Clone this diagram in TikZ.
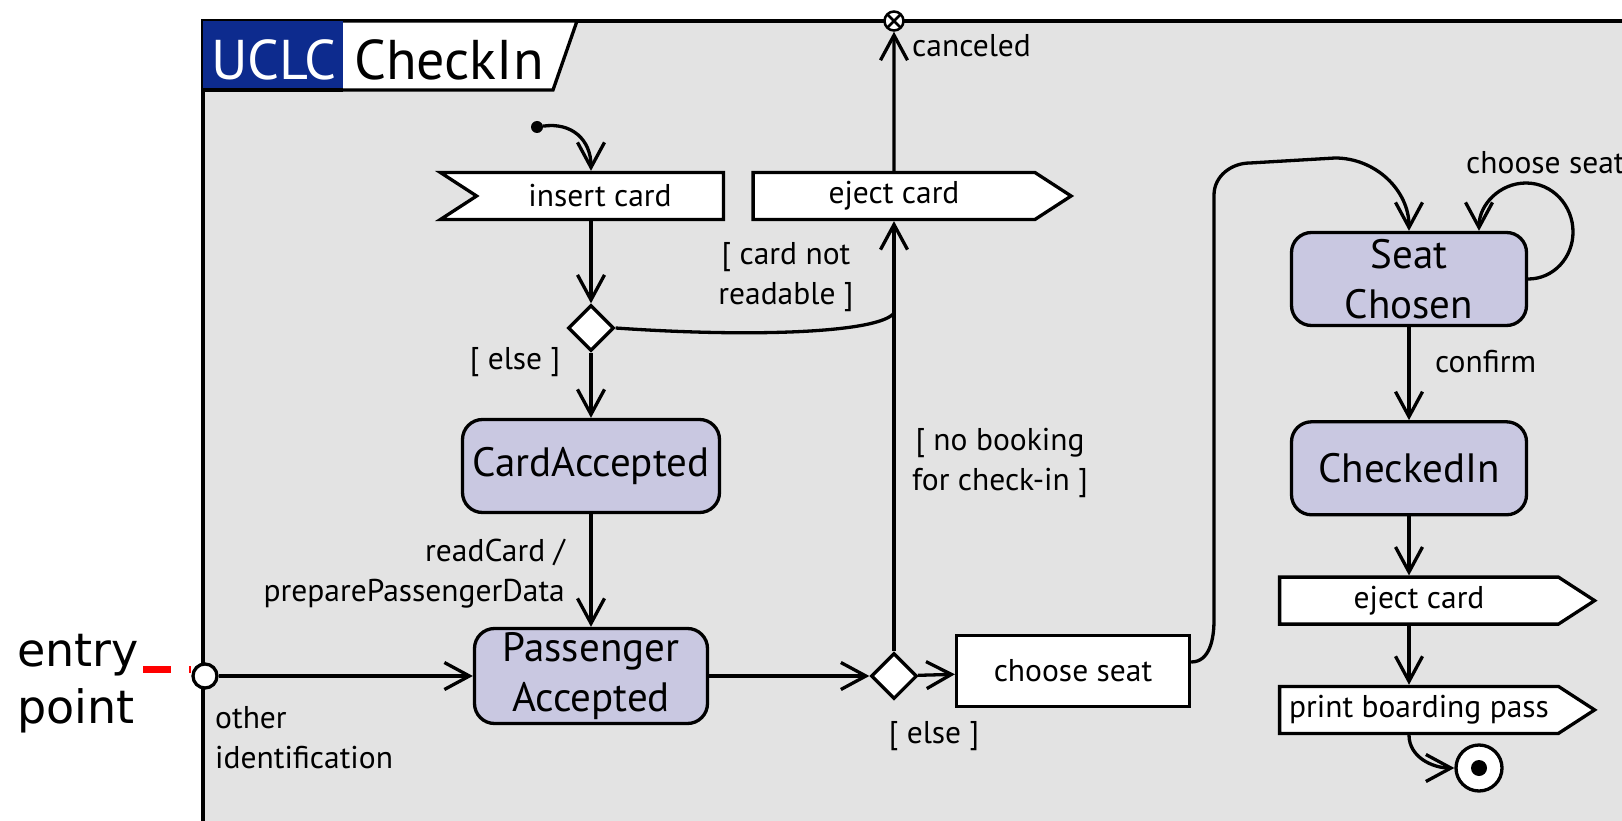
\documentclass[tikz,border=0pt]{standalone}
\usepackage{fontspec}
\setmainfont{PT Sans}
\newfontfamily\entryfont{DejaVu Sans}
\usepackage{tikz}
\usetikzlibrary{shapes.geometric, shapes.symbols, arrows.meta, positioning}
\definecolor{framegray}{HTML}{E3E3E3}
\definecolor{statefill}{HTML}{C9C8E1}
\definecolor{uclcblue}{HTML}{0D2B8E}
\newcommand{\lblfont}{\fontsize{31.5}{40}\selectfont}
\newcommand{\statefont}{\fontsize{41}{50}\selectfont}
\newcommand{\hdrfont}{\fontsize{56}{60}\selectfont}
\tikzstyle{state}    = [rectangle, rounded corners=20pt, draw, line width=3.3pt,
                         fill=statefill, align=center, font=\statefont, inner sep=0pt]
\tikzstyle{sendsig}  = [signal, signal to=east, signal pointer angle=66, draw,
                         line width=3.3pt, fill=white, font=\lblfont,
                         minimum height=47pt, inner sep=0pt]
\tikzstyle{recvsig}  = [signal, signal to=nowhere, signal from=west,
                         signal pointer angle=66, draw, line width=3.3pt,
                         fill=white, font=\lblfont, minimum height=47pt, inner sep=0pt]
\tikzstyle{action}   = [rectangle, draw, line width=3.3pt, fill=white,
                         font=\lblfont, inner sep=0pt]
\tikzstyle{decision} = [diamond, draw, line width=3.3pt, fill=white,
                         minimum size=46pt, inner sep=0pt]
\tikzstyle{arrow}    = [-{Straight Barb[length=25pt,width=27pt]}, line width=3.3pt]
\tikzstyle{lbl}      = [font=\lblfont, align=center, inner sep=0pt]

\begin{document}
\begin{tikzpicture}[x=1pt, y=1pt]
  \useasboundingbox (0,0) rectangle (1622,-821);
  \clip (0,0) rectangle (1622,-821);

  % frame and header
  \draw[line width=4pt, fill=framegray] (203,-21) rectangle (1700,-900);
  \fill[uclcblue] (203,-21) rectangle (343,-90);
  \draw[line width=3.3pt, fill=white] (343,-21) -- (577,-21) -- (553,-90) -- (343,-90);
  \draw[line width=3.3pt] (203,-90) -- (343,-90);
  \node[font=\hdrfont, text=white, anchor=base, inner sep=0pt] (uclc) at (274,-80) {UCLC};
  \node[font=\hdrfont, anchor=base west, inner sep=0pt] (title) at (354,-80) {CheckIn};

  % entry point annotation
  \node[font=\entryfont\fontsize{46}{57}\selectfont, align=left, anchor=west,
        inner sep=0pt] (lentry) at (17,-684) {entry\\point};
  \coordinate (redstart) at (143,-669);
  \node[circle, draw, line width=3.3pt, fill=white, minimum size=24pt,
        inner sep=0pt] (entry) at (205,-676) {};

  % nodes
  \node[circle, fill, minimum size=12pt, inner sep=0pt] (init) at (537,-127) {};
  \node[recvsig, minimum width=283pt] (ins) at (600,-196) {insert card};
  \node[sendsig, minimum width=318pt] (ej1) at (894,-196) {eject card};
  \node[circle, draw, line width=2.5pt, fill=white, minimum size=19pt, inner sep=0pt,
        path picture={\draw[line width=2.5pt]
          (path picture bounding box.north west) -- (path picture bounding box.south east)
          (path picture bounding box.north east) -- (path picture bounding box.south west);}]
        (cancel) at (894,-21) {};
  \node[decision] (d1) at (591,-328) {};
  \coordinate (join) at (894,-313);
  \node[state, minimum width=257pt, minimum height=93pt] (ca) at (591,-466) {CardAccepted};
  \node[state, minimum width=233pt, minimum height=95pt] (pa) at (591,-676) {Passenger\\Accepted};
  \node[decision] (d2) at (894,-676) {};
  \node[action, minimum width=233pt, minimum height=71pt] (cs) at (1073,-671) {choose seat};
  \node[state, minimum width=235pt, minimum height=93pt] (sc) at (1409,-279) {Seat\\Chosen};
  \node[state, minimum width=235pt, minimum height=93pt, below=93pt of sc] (ci) {CheckedIn};
  \node[sendsig, minimum width=315pt, below=59pt of ci, xshift=10pt] (ej2) {eject card};
  \node[sendsig, minimum width=315pt, below=59pt of ej2] (pb) {print boarding pass};
  \node[circle, draw, line width=3.3pt, fill=white, minimum size=46pt, inner sep=0pt,
        path picture={\fill[black] (path picture bounding box.center) circle (8pt);}]
        (fin) at (1479,-768) {};

  % labels
  \node[lbl, anchor=west] (lcanc) at (912,-46) {canceled};
  \node[lbl] (lnotread) at (786,-277) {[ card not\\readable ]};
  \node[lbl] (lelse1) at (515,-362) {[ else ]};
  \node[lbl, align=right, anchor=east] (lread) at (565,-574) {readCard /\\preparePassengerData};
  \node[lbl] (lnobook) at (1000,-463) {[ no booking\\for check-in ]};
  \node[lbl] (lelse2) at (934,-736) {[ else ]};
  \node[lbl, anchor=west] (lconf) at (1435,-362) {confirm};
  \node[lbl, anchor=west] (lchoose) at (1466,-163) {choose seat};
  \node[lbl, align=left, anchor=west] (lother) at (215,-738) {other\\identification};

  % connectors
  \draw[red, line width=7pt, dash pattern=on 28pt off 18pt] (redstart) -- (redstart -| entry.west);
  \draw[arrow] (init) .. controls (572,-122) and (591,-140) .. (d1 |- ins.north);
  \draw[arrow] (d1 |- ins.south) -- (d1);
  \draw[line width=3.3pt] (d1.east) .. controls (760,-338) and (880,-332) .. (join);
  \draw[arrow] (d1) -- (ca);
  \draw[arrow] (ca) -- (pa);
  \draw[arrow] (entry) -- (pa);
  \draw[arrow] (pa) -- (d2);
  \draw[arrow] (d2) -- (cs);
  \draw[arrow] (d2) -- (ej1);
  \draw[arrow] (ej1) -- (cancel);
  \draw[arrow] ([yshift=9pt]cs.east) to[out=0,in=-90] (1214,-620) -- (1214,-195)
    to[out=90,in=180] (1250,-163) -- (1335,-158) to[out=0,in=90] (sc.north);
  \draw[arrow] (sc.east) to[out=0,in=-90] (1573,-232) to[out=90,in=0] (1526,-183)
    to[out=180,in=90] ([xshift=70pt]sc.north);
  \draw[arrow] (sc) -- (ci);
  \draw[arrow] (ci) -- (ci.south |- ej2.north);
  \draw[arrow] (ci.south |- ej2.south) -- (ci.south |- pb.north);
  \draw[arrow] (ci.south |- pb.south) to[out=-90,in=180] (fin.west);

\end{tikzpicture}
\end{document}
